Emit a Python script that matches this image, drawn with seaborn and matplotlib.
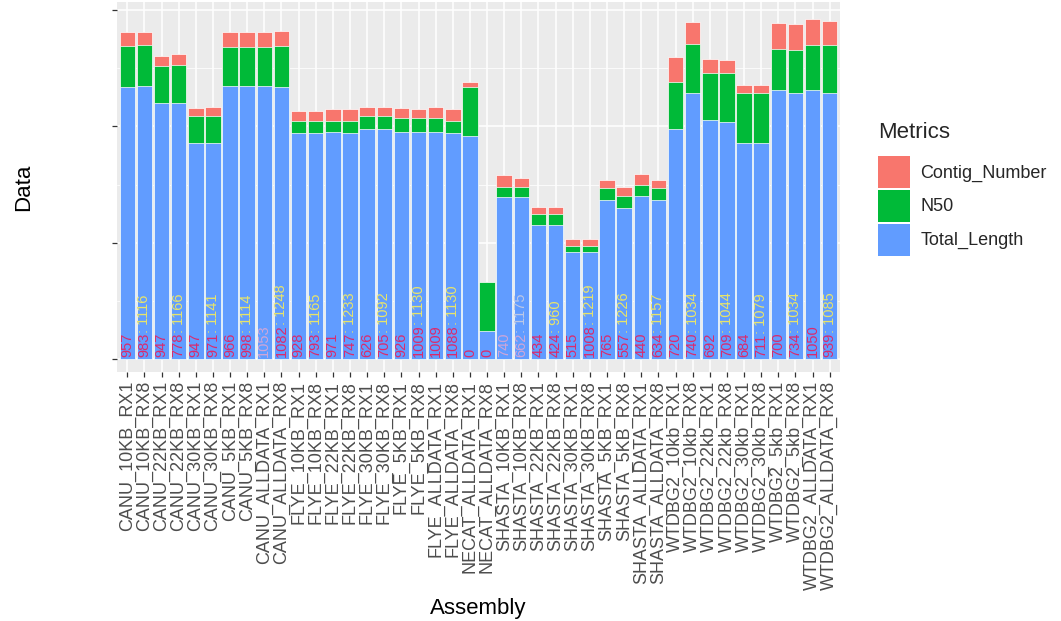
import numpy as np
import pandas as pd

import matplotlib
matplotlib.use("Agg")
import matplotlib.pyplot as plt
from matplotlib.patches import Patch
import seaborn as sns


# ============================================================
# DATA (y in tick units)
# ============================================================

assemblies = [
    "CANU_10KB_RX1", "CANU_10KB_RX8", "CANU_22KB_RX1", "CANU_22KB_RX8",
    "CANU_30KB_RX1", "CANU_30KB_RX8", "CANU_5KB_RX1", "CANU_5KB_RX8",
    "CANU_ALLDATA_RX1", "CANU_ALLDATA_RX8",
    "FLYE_10KB_RX1", "FLYE_10KB_RX8", "FLYE_22KB_RX1", "FLYE_22KB_RX8",
    "FLYE_30KB_RX1", "FLYE_30KB_RX8", "FLYE_5KB_RX1", "FLYE_5KB_RX8",
    "FLYE_ALLDATA_RX1", "FLYE_ALLDATA_RX8",
    "NECAT_ALLDATA_RX1", "NECAT_ALLDATA_RX8",
    "SHASTA_10KB_RX1", "SHASTA_10KB_RX8", "SHASTA_22KB_RX1", "SHASTA_22KB_RX8",
    "SHASTA_30KB_RX1", "SHASTA_30KB_RX8", "SHASTA_5KB_RX1", "SHASTA_5KB_RX8",
    "SHASTA_ALLDATA_RX1", "SHASTA_ALLDATA_RX8",
    "WTDBG2_10kb_RX1", "WTDBG2_10kb_RX8", "WTDBG2_22kb_RX1", "WTDBG2_22kb_RX8",
    "WTDBG2_30kb_RX1", "WTDBG2_30kb_RX8", "WTDBG2_5kb_RX1", "WTDBG2_5kb_RX8",
    "WTDBG2_ALLDATA_RX1", "WTDBG2_ALLDATA_RX8",
]

total_length = [
    2.34, 2.35, 2.20, 2.20, 1.86, 1.86, 2.35, 2.35, 2.35, 2.34,
    1.94, 1.94, 1.95, 1.94, 1.98, 1.98, 1.95, 1.95, 1.95, 1.94,
    1.92, 0.24,
    1.39, 1.39, 1.15, 1.15, 0.92, 0.92, 1.37, 1.30, 1.40, 1.37,
    1.98, 2.29, 2.06, 2.04, 1.86, 1.86, 2.31, 2.29, 2.31, 2.29,
]

n50 = [
    0.35, 0.35, 0.32, 0.33, 0.23, 0.23, 0.33, 0.33, 0.33, 0.35,
    0.11, 0.11, 0.10, 0.11, 0.11, 0.11, 0.12, 0.12, 0.12, 0.11,
    0.42, 0.42,
    0.09, 0.09, 0.10, 0.10, 0.05, 0.05, 0.10, 0.10, 0.10, 0.10,
    0.40, 0.42, 0.40, 0.42, 0.43, 0.43, 0.36, 0.37, 0.39, 0.41,
]

contig_number = [
    0.12, 0.11, 0.09, 0.09, 0.07, 0.08, 0.13, 0.13, 0.13, 0.13,
    0.08, 0.08, 0.10, 0.10, 0.08, 0.08, 0.09, 0.08, 0.10, 0.10,
    0.04, 0.00,
    0.10, 0.08, 0.06, 0.06, 0.06, 0.06, 0.07, 0.08, 0.09, 0.07,
    0.22, 0.19, 0.12, 0.11, 0.07, 0.07, 0.22, 0.22, 0.22, 0.21,
]

contig_labels = [
    "957", "983", "947", "778", "947", "971", "966", "998", "1053", "1082",
    "928", "793", "971", "747", "626", "705", "926", "1009", "1009", "1088",
    "0", "0",
    "740", "662", "434", "424", "515", "1008", "765", "557", "440", "634",
    "720", "740", "692", "709", "684", "711", "700", "734", "1050", "939",
]

n50_labels = [
    None, "1116", None, "1166", None, "1141", None, "1114", None, "1248",
    None, "1165", None, "1233", None, "1092", None, "1130", None, "1130",
    None, None,
    None, "1175", None, "960", None, "1219", None, "1226", None, "1157",
    None, "1034", None, "1044", None, "1079", None, "1034", None, "1085",
]

faint_bars = ["CANU_ALLDATA_RX1", "SHASTA_10KB_RX1", "SHASTA_10KB_RX8"]

METRICS = ["Contig_Number", "N50", "Total_Length"]
COLORS = {"Contig_Number": "#F8766D", "N50": "#00BA38", "Total_Length": "#619CFF"}


df = pd.DataFrame({
    "Assembly": assemblies,
    "Total_Length": total_length,
    "N50": n50,
    "Contig_Number": contig_number,
})
df["top_n50"] = df["Total_Length"] + df["N50"]
df["top_contig"] = df["top_n50"] + df["Contig_Number"]


# ============================================================
# STYLE
# ============================================================

sns.set_style("darkgrid", {
    "axes.facecolor": "#EBEBEB",
    "grid.color": "white",
    "axes.edgecolor": "#EBEBEB",
})
plt.rcParams["font.family"] = ["Liberation Sans", "DejaVu Sans"]


# ============================================================
# PLOT
# ============================================================

fig = plt.figure(figsize=(10.61, 6.21), dpi=100)
ax = fig.add_axes([117 / 1061, 1 - 372 / 621, 723 / 1061, 370 / 621])

# stacked bars: draw cumulative tops first, then cover them
for col, metric in [("top_contig", "Contig_Number"),
                    ("top_n50", "N50"),
                    ("Total_Length", "Total_Length")]:
    sns.barplot(
        data=df,
        x="Assembly",
        y=col,
        order=assemblies,
        color=COLORS[metric],
        saturation=1,
        width=0.9,
        edgecolor="white",
        linewidth=0.5,
        errorbar=None,
        ax=ax,
    )

# labels at the bottom of the bars: red contig number, yellow ": N50" after it
for i, name in enumerate(assemblies):
    faint = name in faint_bars
    red_col = "#CFA6D8" if faint else "#DB2A6C"
    yel_col = "#BDC8E6" if faint else "#E8E46A"
    red_txt = ax.text(i, 0.02, contig_labels[i],
                      rotation=90, rotation_mode="anchor", ha="left", va="center",
                      fontsize=10.5, color=red_col)
    if n50_labels[i] is not None:
        ax.annotate(f": {n50_labels[i]}", xy=(0.5, 0.97), xycoords=red_txt,
                    rotation=90, rotation_mode="anchor", ha="left", va="center",
                    fontsize=10.5, color=yel_col)

ax.set_xlim(-0.6, len(assemblies) - 0.4)
ax.set_ylim(-0.11, 3.07)

ax.set_yticks([0, 1, 2, 3])
ax.set_yticklabels(["", "", "", ""])
ax.set_yticks([0.5, 1.5, 2.5], minor=True)
ax.grid(which="major", color="white", linewidth=1.1)
ax.grid(which="minor", axis="y", color="white", linewidth=0.55)
ax.set_axisbelow(True)

ax.tick_params(axis="both", which="major", length=3.5, width=0.9,
               color="#333333", bottom=True, left=True)
ax.tick_params(axis="both", which="minor", length=0)
ax.tick_params(axis="x", labelrotation=90, labelsize=13,
               labelcolor="#4D4D4D", pad=3)

for side in ax.spines.values():
    side.set_visible(False)

ax.set_xlabel("Assembly", fontsize=16, color="black")
ax.set_ylabel("Data", fontsize=16, color="black")
ax.xaxis.set_label_coords(0.5, -0.61)
ax.yaxis.set_label_coords(-0.115, 0.5)

handles = [Patch(facecolor=COLORS[m], edgecolor="none", label=m) for m in METRICS]
leg = fig.legend(
    handles=handles,
    title="Metrics",
    loc="center left",
    bbox_to_anchor=(851 / 1061, 1 - 189 / 621),
    frameon=False,
    fontsize=13,
    title_fontsize=16,
    handlelength=1.75,
    handleheight=2.35,
    labelspacing=0.1,
    handletextpad=0.6,
    borderpad=1.0,
    alignment="left",
)
# more room between the legend title and the keys
leg._legend_box.sep = 9

fig.savefig("out.png", dpi=100)
